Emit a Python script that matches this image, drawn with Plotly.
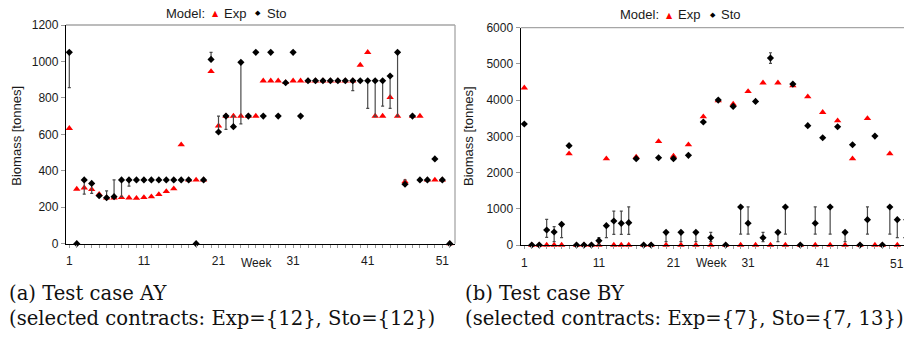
import plotly.graph_objects as go

W, H = 904, 340

weeks = list(range(1, 53))

# ---------------- (a) Test case AY ----------------
ay_exp = [633, 300, 307, 298, 272, 252, 252, 254, 252, 250,
          254, 258, 270, 287, 302, 543, 350, 350, 350, 945,
          647, 700, 700, 700, 700, 700, 894, 894, 894, 885,
          894, 894, 894, 894, 894, 894, 894, 894, 894, 980,
          1050, 700, 700, 803, 700, 340, 700, 700, 350, 350,
          350, 0]
ay_sto = [1050, 0, 350, 331, 263, 252, 258, 350, 350, 350,
          350, 350, 350, 350, 350, 350, 350, 0, 350, 1011,
          613, 700, 642, 995, 700, 1050, 700, 1050, 700, 883,
          1050, 700, 894, 894, 894, 894, 894, 894, 894, 894,
          894, 894, 894, 920, 1050, 326, 700, 350, 350, 465,
          350, 0]
# range of the stochastic result (low / high end of the bar)
ay_sto_low = [856, 0, 272, 276, 263, 252, 258, 258, 316, 350,
              350, 350, 350, 350, 350, 350, 350, 0, 350, 1011,
              613, 627, 642, 657, 700, 1050, 700, 1050, 700, 883,
              1050, 700, 894, 894, 894, 894, 894, 894, 840, 894,
              743, 697, 755, 743, 700, 326, 700, 350, 350, 465,
              350, 0]
ay_sto_high = [1050, 0, 350, 331, 263, 290, 350, 350, 350, 350,
               350, 350, 350, 350, 350, 350, 350, 0, 350, 1050,
               700, 700, 700, 995, 700, 1050, 700, 1050, 700, 883,
               1050, 700, 894, 894, 894, 894, 894, 894, 894, 894,
               894, 894, 894, 920, 1050, 350, 700, 350, 350, 465,
               350, 0]

# ---------------- (b) Test case BY ----------------
by_exp = [4342, 0, 0, 0, 0, 0, 2521, 0, 0, 0,
          0, 2383, 0, 0, 0, 2430, 0, 0, 2861, 0,
          2456, 0, 2769, 0, 3542, 0, 3984, 0, 3892, 0,
          4241, 0, 4480, 0, 4480, 0, 4398, 0, 4094, 0,
          3662, 0, 3432, 0, 2383, 0, 3496, 0, 0, 2521,
          0, 0]
by_sto = [3340, 0, 0, 414, 360, 570, 2742, 0, 0, 0,
          120, 534, 662, 598, 616, 2383, 0, 0, 2410, 350,
          2383, 350, 2475, 350, 3395, 200, 4002, 0, 3827, 1050,
          600, 3965, 200, 5161, 350, 1050, 4443, 0, 3294, 600,
          2962, 1050, 3266, 350, 2769, 0, 700, 3008, 0, 1050,
          700, 700]
by_sto_low = [3340, 0, 0, 212, 92, 202, 2742, 0, 0, 0,
              20, 202, 294, 294, 294, 2383, 0, 0, 2410, 92,
              2383, 92, 2475, 92, 3395, 92, 4002, 0, 3827, 300,
              300, 3965, 92, 5014, 92, 300, 4443, 0, 3294, 300,
              2962, 300, 3266, 92, 2769, 0, 300, 3008, 0, 300,
              202, 202]
by_sto_high = [3340, 0, 0, 708, 506, 570, 2742, 0, 0, 0,
               202, 534, 938, 938, 1050, 2383, 0, 0, 2410, 350,
               2383, 350, 2475, 350, 3395, 350, 4002, 0, 3827, 1050,
               1050, 3965, 350, 5308, 350, 1050, 4443, 0, 3294, 1050,
               2962, 1050, 3266, 350, 2769, 0, 1050, 3008, 0, 1050,
               700, 700]

x_tickvals = [1, 11, 21, 31, 41, 51]
ay_yticks = [0, 200, 400, 600, 800, 1000, 1200]
by_yticks = [0, 1000, 2000, 3000, 4000, 5000, 6000]

series_names = ["Exp", "Sto"]
caption_a = ["(a) Test case AY", "(selected contracts: Exp={12}, Sto={12})"]
caption_b = ["(b) Test case BY", "(selected contracts: Exp={7}, Sto={7, 13})"]

RED = "#ff0000"
BLACK = "#000000"
FONT = "Liberation Sans, Arial, sans-serif"


def px(x):
    return x / W


def py(y):
    return 1 - y / H


def add_case(fig, exp, sto, lo, hi, xa, ya):
    fig.add_trace(go.Scatter(
        x=weeks, y=exp, mode="markers", name=series_names[0],
        marker=dict(symbol="triangle-up", size=6.5, color=RED, line=dict(width=0)),
        xaxis=xa, yaxis=ya, showlegend=False, cliponaxis=False))
    plus = [h - v for h, v in zip(hi, sto)]
    minus = [v - l for v, l in zip(sto, lo)]
    fig.add_trace(go.Scatter(
        x=weeks, y=sto, mode="markers", name=series_names[1],
        marker=dict(symbol="diamond", size=5.5, color=BLACK, line=dict(width=0)),
        error_y=dict(type="data", symmetric=False, array=plus, arrayminus=minus,
                     color="#4a4a4a", thickness=1.2, width=1.5),
        xaxis=xa, yaxis=ya, showlegend=False, cliponaxis=False))


fig = go.Figure()
add_case(fig, ay_exp, ay_sto, ay_sto_low, ay_sto_high, "x", "y")
add_case(fig, by_exp, by_sto, by_sto_low, by_sto_high, "x2", "y2")

tick_font = dict(family=FONT, size=12, color="#1a1a1a")
xcommon = dict(tickmode="array", ticks="outside", ticklen=3,
               tickcolor="#9a9a9a", showline=True, linecolor=BLACK, linewidth=1.3,
               showgrid=False, zeroline=False, automargin=False, ticklabelstandoff=3,
               ticklabeloverflow="allow", tickfont=tick_font,
               minor=dict(tickvals=weeks, ticks="outside", ticklen=3, tickcolor="#9a9a9a"))
ycommon = dict(ticks="outside", ticklen=4, tickcolor="#9a9a9a", showline=True,
               linecolor=BLACK, linewidth=1.3, showgrid=False, zeroline=False,
               automargin=False, tickfont=tick_font)

fig.update_layout(
    width=W, height=H, margin=dict(l=0, r=0, t=0, b=0, autoexpand=False),
    paper_bgcolor="white", plot_bgcolor="white", showlegend=False,
    xaxis=dict(domain=[px(66), px(455)], range=[0.557, 52.70], anchor="y",
               tickvals=x_tickvals, **xcommon),
    yaxis=dict(domain=[py(243.7), py(25)], range=[0, 1200], tickvals=ay_yticks,
               anchor="x", **ycommon),
    # the last label of the right panel sits at the page edge -> drawn as annotation below
    xaxis2=dict(domain=[px(520.7), 1.0], range=[0.517, 51.9], anchor="y2",
                tickvals=x_tickvals, ticktext=[str(v) for v in x_tickvals[:-1]] + [" "],
                **xcommon),
    yaxis2=dict(domain=[py(245), py(27.7)], range=[0, 6000], tickvals=by_yticks,
                anchor="x2", **ycommon),
)

# gray top / right frame lines
shapes = [
    dict(type="line", xref="x domain", yref="y domain", x0=0, x1=1, y0=1, y1=1,
         line=dict(color="#a6a6a6", width=1.3)),
    dict(type="line", xref="x domain", yref="y domain", x0=1, x1=1, y0=0, y1=1,
         line=dict(color="#a6a6a6", width=1.3)),
    dict(type="line", xref="x2 domain", yref="y2 domain", x0=0, x1=1, y0=1, y1=1,
         line=dict(color="#a6a6a6", width=1.3)),
]
fig.update_layout(shapes=shapes)

ann = []
tf = dict(family=FONT, size=13, color="#1a1a1a")
# last x tick label of the right panel
ann.append(dict(text=str(x_tickvals[-1]), x=x_tickvals[-1], y=py(263.5), xref="x2", yref="paper",
                showarrow=False, font=tick_font, xanchor="center", yanchor="middle"))
# y axis titles
for xpix, ypix in [(15.7, 136), (468, 136)]:
    ann.append(dict(text="Biomass [tonnes]", x=px(xpix), y=py(ypix), xref="paper", yref="paper",
                    textangle=-90, showarrow=False, font=tf, xanchor="center", yanchor="middle"))
# "Week" labels
for xr in ["x", "x2"]:
    ann.append(dict(text="Week", x=26.1, y=py(263), xref=xr, yref="paper", showarrow=False,
                    font=tick_font, xanchor="center", yanchor="middle"))
# legends
for (mx, tri, ex, dia, sx, ly) in [(164, 215, 222, 258, 265, 13.3), (618, 669, 676, 712.7, 719, 15)]:
    ann.append(dict(text="Model:", x=px(mx), y=py(ly), xref="paper", yref="paper", showarrow=False,
                    font=tf, xanchor="left", yanchor="middle"))
    ann.append(dict(text="▲", x=px(tri), y=py(ly + 0.5), xref="paper", yref="paper", showarrow=False,
                    font=dict(family="DejaVu Sans", size=8, color=RED), xanchor="center", yanchor="middle"))
    ann.append(dict(text=series_names[0], x=px(ex), y=py(ly), xref="paper", yref="paper", showarrow=False,
                    font=tf, xanchor="left", yanchor="middle"))
    ann.append(dict(text="◆", x=px(dia), y=py(ly), xref="paper", yref="paper", showarrow=False,
                    font=dict(family="DejaVu Sans", size=7, color=BLACK), xanchor="center", yanchor="middle"))
    ann.append(dict(text=series_names[1], x=px(sx), y=py(ly), xref="paper", yref="paper", showarrow=False,
                    font=tf, xanchor="left", yanchor="middle"))
# captions
cf = dict(family="DejaVu Serif", size=19.6, color="#111111")
for xpix, cap in [(7, caption_a), (463, caption_b)]:
    ann.append(dict(text=cap[0], x=px(xpix), y=py(293), xref="paper", yref="paper", showarrow=False,
                    font=cf, xanchor="left", yanchor="middle"))
    ann.append(dict(text=cap[1], x=px(xpix), y=py(318), xref="paper", yref="paper", showarrow=False,
                    font=cf, xanchor="left", yanchor="middle"))
fig.update_layout(annotations=ann)

fig.write_html("out.html", config={"displayModeBar": False},
               post_script="document.body.style.margin='0px';")
